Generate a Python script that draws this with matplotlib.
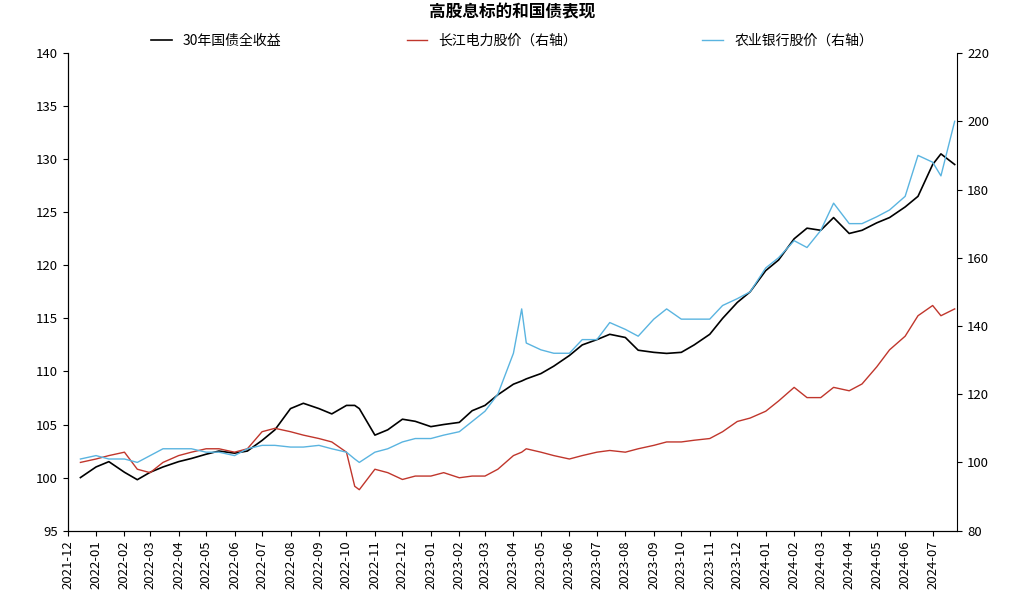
import matplotlib
matplotlib.use("Agg")
import matplotlib.pyplot as plt
import matplotlib.dates as mdates
from matplotlib import font_manager as fm
import pandas as pd

cjk = None
for f in fm.findSystemFonts():
    n = f.replace("\\", "/").split("/")[-1]
    if "CJK" in n and ("SC" in n or "ttc" in n.lower()):
        try:
            fm.fontManager.addfont(f)
        except Exception:
            pass
names = [fe.name for fe in fm.fontManager.ttflist if "CJK" in fe.name]
cjk = "Noto Sans CJK SC" if "Noto Sans CJK SC" in names else (names[0] if names else "DejaVu Sans")
plt.rcParams["font.family"] = "sans-serif"
plt.rcParams["font.sans-serif"] = [cjk, "DejaVu Sans"]

dates = ["2021-12-15","2022-01-01","2022-01-15","2022-02-01","2022-02-15","2022-03-01","2022-03-15","2022-04-01","2022-04-15","2022-05-01","2022-05-15","2022-06-01","2022-06-15","2022-07-01","2022-07-15","2022-08-01","2022-08-15","2022-09-01","2022-09-15","2022-10-01","2022-10-10","2022-10-15","2022-11-01","2022-11-15","2022-12-01","2022-12-15","2023-01-01","2023-01-15","2023-02-01","2023-02-15","2023-03-01","2023-03-15","2023-04-01","2023-04-10","2023-04-15","2023-05-01","2023-05-15","2023-06-01","2023-06-15","2023-07-01","2023-07-15","2023-08-01","2023-08-15","2023-09-01","2023-09-15","2023-10-01","2023-10-15","2023-11-01","2023-11-15","2023-12-01","2023-12-15","2024-01-01","2024-01-15","2024-02-01","2024-02-15","2024-03-01","2024-03-15","2024-04-01","2024-04-15","2024-05-01","2024-05-15","2024-06-01","2024-06-15","2024-07-01","2024-07-10","2024-07-25"]
bond30 = [100,101,101.5,100.5,99.8,100.5,101,101.5,101.8,102.2,102.5,102.3,102.5,103.5,104.5,106.5,107,106.5,106,106.8,106.8,106.5,104,104.5,105.5,105.3,104.8,105,105.2,106.3,106.8,107.8,108.8,109.1,109.3,109.8,110.5,111.5,112.5,113,113.5,113.2,112,111.8,111.7,111.8,112.5,113.5,115,116.5,117.5,119.5,120.5,122.5,123.5,123.3,124.5,123,123.3,124,124.5,125.5,126.5,129.5,130.5,129.5]
cjdl = [100,101,102,103,98,97,100,102,103,104,104,103,104,109,110,109,108,107,106,103,93,92,98,97,95,96,96,97,95.5,96,96,98,102,103,104,103,102,101,102,103,103.5,103,104,105,106,106,106.5,107,109,112,113,115,118,122,119,119,122,121,123,128,133,137,143,146,143,145]
nyyh = [101,102,101,101,100,102,104,104,104,103,103,102,104,105,105,104.5,104.5,105,104,103,101,100,103,104,106,107,107,108,109,112,115,120,132,145,135,133,132,132,136,136,141,139,137,142,145,142,142,142,146,148,150,157,160,165,163,168,176,170,170,172,174,178,190,188,184,200]

x = pd.to_datetime(dates)
fig, ax = plt.subplots(figsize=(10.24, 6.03), dpi=100)
fig.subplots_adjust(left=0.066, right=0.935, top=0.912, bottom=0.12)
ax2 = ax.twinx()
l1, = ax.plot(x, bond30, color="black", lw=1.2, label="30年国债全收益")
l2, = ax2.plot(x, cjdl, color="#c0362c", lw=1.0, label="长江电力股价（右轴）")
l3, = ax2.plot(x, nyyh, color="#5ab4e0", lw=1.0, label="农业银行股价（右轴）")
ax.set_ylim(95, 140)
ax2.set_ylim(80, 220)
ax.set_xlim(pd.Timestamp("2021-12-01"), pd.Timestamp("2024-07-28"))
ax.xaxis.set_major_locator(mdates.MonthLocator())
ax.xaxis.set_major_formatter(mdates.DateFormatter("%Y-%m"))
plt.setp(ax.get_xticklabels(), rotation=90)
for a in (ax, ax2):
    a.spines["top"].set_visible(False)
    a.tick_params(labelsize=9.5)
ax.spines["right"].set_visible(False)
fig.suptitle("高股息标的和国债表现", fontsize=12, fontweight="bold", y=0.995)
fig.legend(handles=[l1, l2, l3], loc="upper center", ncol=3, frameon=False,
           bbox_to_anchor=(0.5, 0.965), fontsize=10, columnspacing=9, handlelength=1.5)
fig.savefig("out.png")
